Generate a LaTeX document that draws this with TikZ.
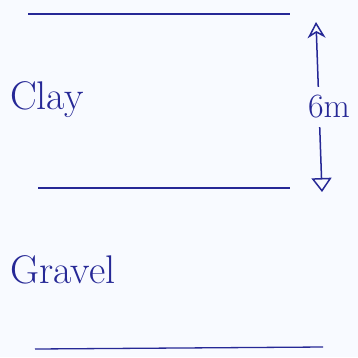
\documentclass[tikz,border=0pt]{standalone}
\usepackage{tikz}
\usetikzlibrary{positioning,arrows.meta,calc}
\definecolor{ink}{RGB}{38,40,150}
\definecolor{paper}{RGB}{248,250,255}

\begin{document}
\begin{tikzpicture}[x=1pt, y=-1pt,
                    layer/.style={draw=ink, line width=1.3pt},
                    soil/.style={text=ink, font=\fontsize{40}{44}\selectfont, anchor=west, inner sep=0pt},
                    dim/.style={draw=ink, line width=1.5pt, {Stealth[open,length=16pt,width=18pt]}-{Triangle[open,length=14pt,width=20pt]}}]
            \fill[paper] (0,0) rectangle (358,357);
            \useasboundingbox (0,0) rectangle (358,357);

            % layer boundaries
            \coordinate (topL) at (28,14);
            \coordinate (topR) at (290,14);
            \coordinate (midL) at (38,188);
            \coordinate (midR) at (290,188);
            \coordinate (botL) at (35,349);
            \coordinate (botR) at (323,347);
            \draw[layer] (topL) -- (topR);
            \draw[layer] (midL) -- (midR);
            \draw[layer] (botL) -- (botR);

            % soil names
            \node[soil] (clay) at (10,100) {Clay};
            \node[soil] (gravel) at (10,270) {Gravel};

            % thickness
            \coordinate (dimTop) at (316,22);
            \coordinate (dimBot) at (322,192);
            \draw[dim] (dimTop) -- node[fill=paper, text=ink, inner xsep=4pt, inner ysep=8pt, xshift=10pt, font=\fontsize{34}{38}\selectfont] (thick) {6m} (dimBot);
        \end{tikzpicture}
\end{document}
